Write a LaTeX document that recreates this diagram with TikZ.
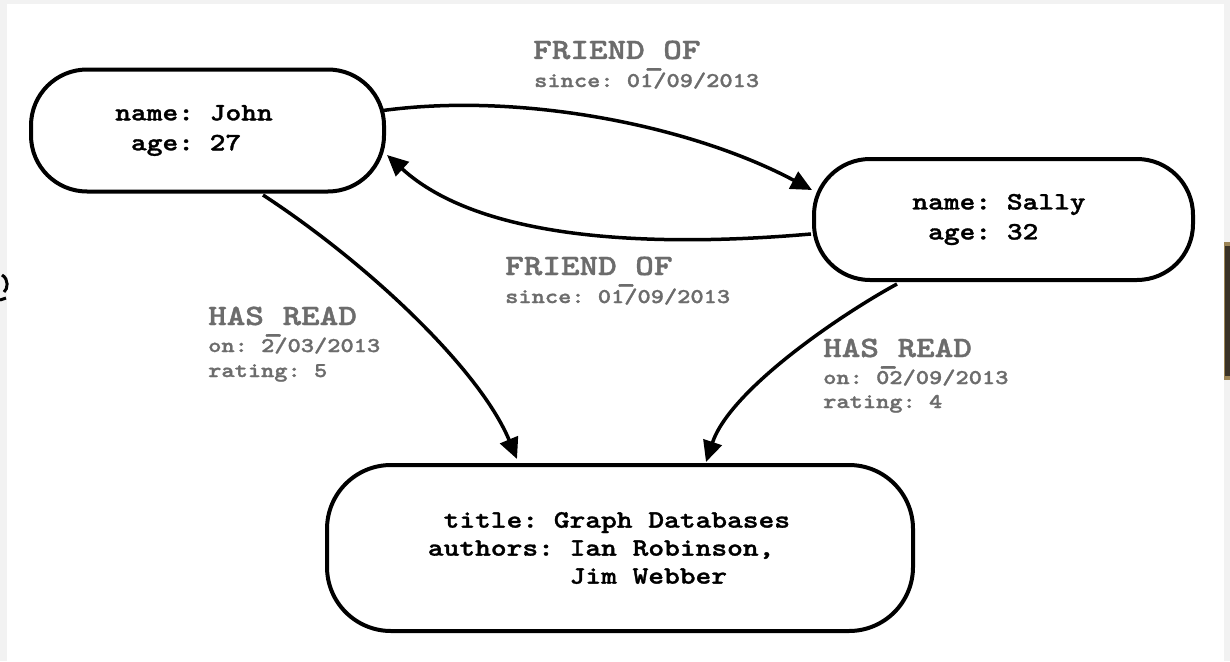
\documentclass[tikz,border=0pt]{standalone}
\usepackage{fontspec}
\usepackage{graphicx}
\usetikzlibrary{arrows.meta,calc}
\newfontfamily\monob[Extension=.otf,FakeBold=1.2]{lmmonolt10-bold}
\definecolor{lblgray}{HTML}{6C6C6C}
\definecolor{edgegray}{HTML}{F2F2F2}
\definecolor{barbrown}{HTML}{3A3226}
\definecolor{bartan}{HTML}{9C8455}
\newcommand{\widetxt}[1]{\scalebox{1.2}[1]{#1}}
\newcommand{\lowus}{\raisebox{-7pt}{\_}}
\begin{document}
\frenchspacing
\begin{tikzpicture}[x=1pt,y=-1pt,
  entity/.style={draw=black, line width=4pt, rounded corners=56pt, inner sep=0pt,
    align=left, font=\monob\fontsize{25}{30}\selectfont},
  rel/.style={line width=3.5pt, -{Triangle[length=21pt,width=19pt]}},
  reltitle/.style={text=lblgray, anchor=base west, inner sep=0pt, font=\monob\fontsize{29.5}{30}\selectfont},
  relprop/.style={text=lblgray, anchor=base west, inner sep=0pt, font=\monob\fontsize{21}{22}\selectfont}
]
% page and frame
\fill[edgegray] (0,0) rectangle (1230,661);
\fill[white] (7,4) rectangle (1224,661);
\useasboundingbox (0,0) rectangle (1230,661);
% slide fragments at the edges
\fill[bartan] (1224,242) rectangle (1230,380);
\fill[barbrown] (1225,246) rectangle (1230,376);
\draw[line width=3pt] (2,275) .. controls (9,279) and (8,289) .. (4,292);
\draw[line width=3pt] (0,300) -- (6,298);

% entities
\node[entity, minimum width=353pt, minimum height=122pt] (john) at (207.5,130.5)
  {\widetxt{name: John}\rule{27pt}{0pt}\\\widetxt{\hphantom{n}age: 27}};
\node[entity, minimum width=379pt, minimum height=121pt] (sally) at (1003.5,219.5)
  {\widetxt{name: Sally}\rule{9pt}{0pt}\\\widetxt{\hphantom{n}age: 32}};
\node[entity, minimum width=586pt, minimum height=166pt, rounded corners=64pt,
  font=\monob\fontsize{25}{28}\selectfont] (book) at (620,548)
  {\widetxt{\hphantom{t}title: Graph Databases}\rule{22pt}{0pt}\\\widetxt{authors: Ian Robinson,}\\\widetxt{\hphantom{authors: }Jim Webber}};

% relationships
\draw[rel] ($(john.east)+(-3,-20)$) .. controls (520,92) and (690,125) .. ($(sally.west)+(0,-29.5)$);
\draw[rel] ($(sally.west)+(-1,14.5)$) .. controls (650,248) and (480,240) .. ($(john.east)+(1,24.5)$);
\draw[rel] ($(john.south)+(55.5,1.5)$) .. controls (370,265) and (480,370) .. ($(book.north)+(-103,-4)$);
\draw[rel] ($(sally.south)+(-106.5,2)$) .. controls (840,315) and (730,390) .. ($(book.north)+(86,-1)$);

% relationship labels
\node[reltitle] (f1t) at (533,59) {\widetxt{FRIEND\lowus OF}};
\node[relprop]  (f1p) at (534,87) {\widetxt{since: 01/09/2013}};
\node[reltitle] (f2t) at (505,275) {\widetxt{FRIEND\lowus OF}};
\node[relprop]  (f2p) at (505,303) {\widetxt{since: 01/09/2013}};
\node[reltitle] (h1t) at (208,325) {\widetxt{HAS\lowus READ}};
\node[relprop]  (h1o) at (208,352) {\widetxt{on: 2/03/2013}};
\node[relprop]  (h1r) at (208,377) {\widetxt{rating: 5}};
\node[reltitle] (h2t) at (823,357) {\widetxt{HAS\lowus READ}};
\node[relprop]  (h2o) at (823,384) {\widetxt{on: 02/09/2013}};
\node[relprop]  (h2r) at (823,408) {\widetxt{rating: 4}};
\end{tikzpicture}
\end{document}
